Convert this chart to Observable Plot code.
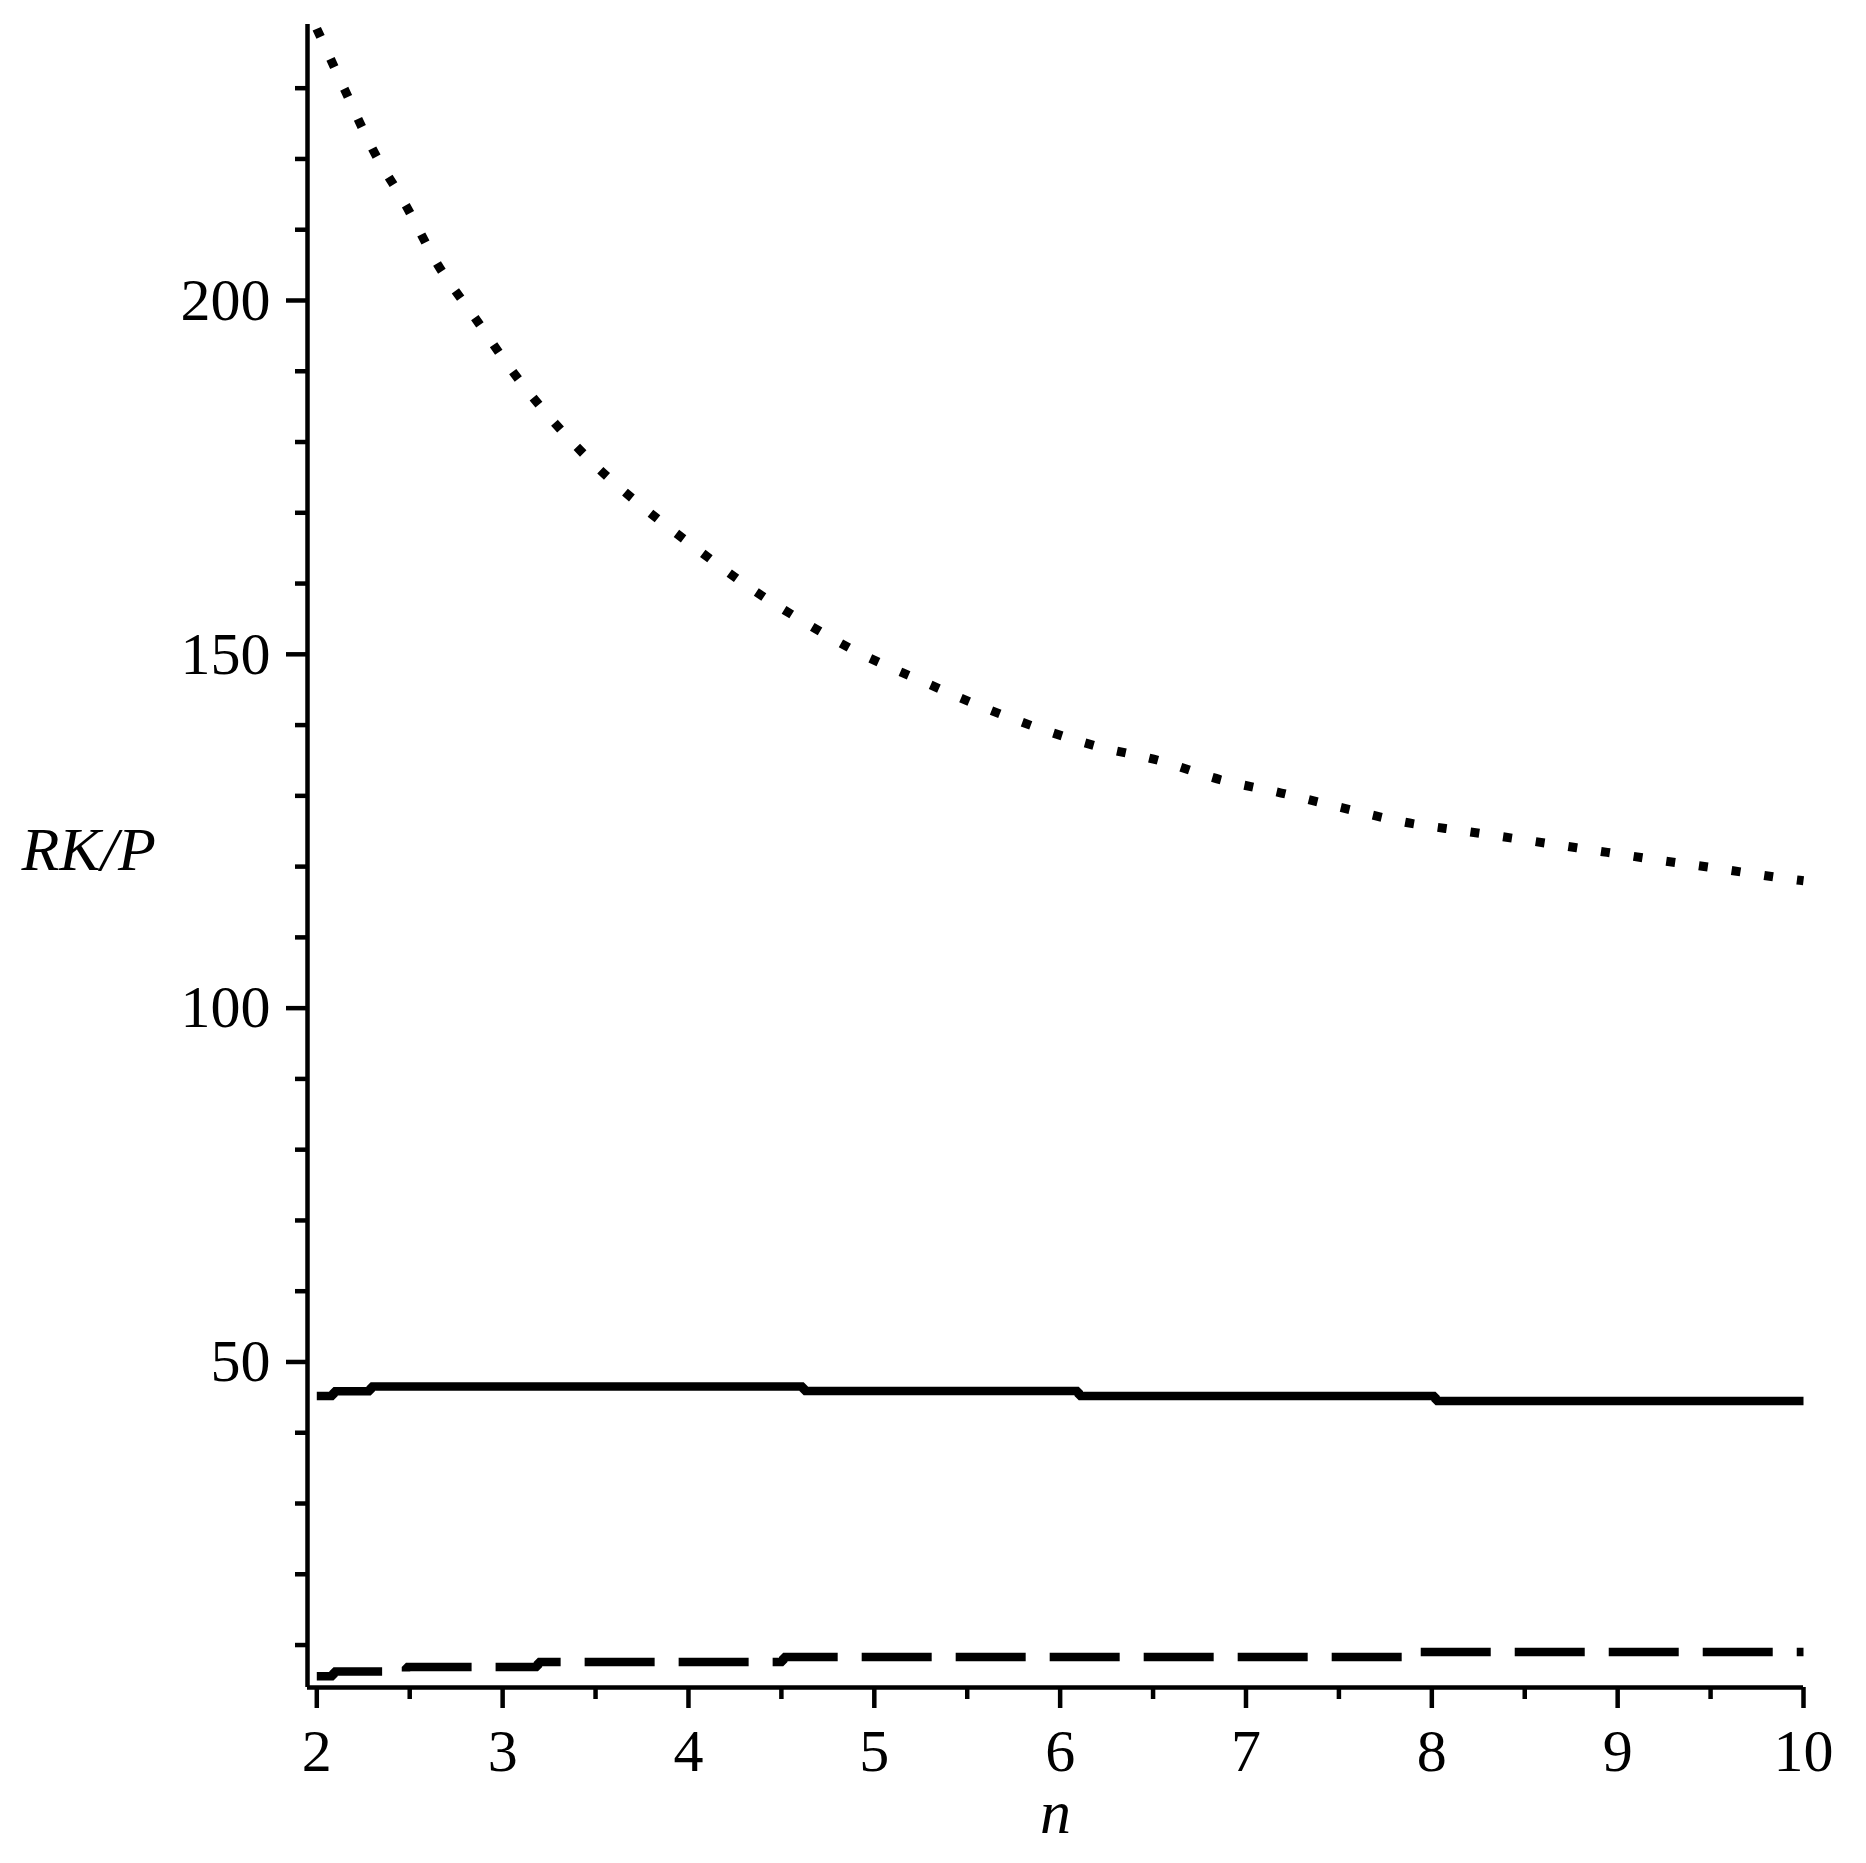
<!DOCTYPE html>
<html>
<head>
<meta charset="utf-8">
<script src="https://cdn.jsdelivr.net/npm/d3@7"></script>
<script src="https://cdn.jsdelivr.net/npm/@observablehq/plot@0.6"></script>
<style>
  html, body { margin: 0; padding: 0; background: #fff; }
  #chart svg { display: block; }
</style>
</head>
<body>
<div id="chart"></div>
<script>
// ---- data ----
// solid curve (drawn as pixel steps in the original)
const solidN = [2, 2.09, 2.29, 4.62, 6.1, 8.02, 10];
const solidV = [45.2, 45.85, 46.55, 45.9, 45.2, 44.5, 44.5];
// dashed curve
const dashN = [2, 2.09, 2.48, 3.19, 4.51, 7.89, 10];
const dashV = [5.6, 6.26, 6.9, 7.6, 8.3, 9.0, 9.0];
// dotted curve
const dotN = [2.0, 2.15, 2.3, 2.48, 2.65, 2.85, 3.05, 3.28, 3.51, 3.76, 4.04, 4.32, 4.62, 4.91, 5.24, 5.54, 5.87, 6.2, 6.53, 6.86, 7.19, 7.52, 7.85, 8.18, 8.54, 8.87, 9.2, 9.55, 9.88, 10];
const dotV = [238.4, 229.8, 221.4, 213.4, 205.1, 197.6, 190.1, 182.7, 176.4, 170.7, 165.0, 159.6, 154.6, 150.3, 146.4, 143.0, 139.7, 137.0, 135.0, 132.3, 130.4, 128.3, 126.3, 125.0, 123.6, 122.3, 121.0, 119.7, 118.4, 118.0];
// ticks
const xMajor = [2, 3, 4, 5, 6, 7, 8, 9, 10];
const xMinor = [2.5, 3.5, 4.5, 5.5, 6.5, 7.5, 8.5, 9.5];
const yMajor = [50, 100, 150, 200];
const yMinor = [10, 20, 30, 40, 60, 70, 80, 90, 110, 120, 130, 140, 160, 170, 180, 190, 210, 220, 230];
const xLabel = "n";
const yLabel = "RK/P";

const zip = (ns, vs) => ns.map((n, i) => ({n, v: vs[i]}));
const solid = zip(solidN, solidV);
const dashed = zip(dashN, dashV);
const dotted = zip(dotN, dotV);

const font = "'Liberation Serif', 'DejaVu Serif', serif";
const fs = 60;
const aw = 4.5;

const chart = Plot.plot({
  width: 1866,
  height: 1863,
  marginLeft: 307,
  marginRight: 63,
  marginTop: 24,
  marginBottom: 176,
  x: {domain: [1.95, 10]},
  y: {domain: [4, 239]},
  style: {fontFamily: font, background: "#fff", color: "#000"},
  marks: [
    // minor ticks
    Plot.axisX({ticks: xMinor, tickSize: 12, tickFormat: () => "", strokeWidth: aw, label: null}),
    Plot.axisY({ticks: yMinor, tickSize: 12, tickFormat: () => "", strokeWidth: aw, label: null}),
    // major ticks with labels
    Plot.axisX({ticks: xMajor, tickSize: 21, tickPadding: 20, fontSize: fs, strokeWidth: aw, label: null, tickFormat: d => String(d)}),
    Plot.axisY({ticks: yMajor, tickSize: 21, tickPadding: 16, fontSize: fs, strokeWidth: aw, label: null, tickFormat: d => String(d)}),
    // axis lines
    Plot.ruleX([1.95], {strokeWidth: aw, stroke: "#000"}),
    Plot.ruleY([4], {strokeWidth: aw, stroke: "#000"}),
    // curves
    Plot.line(dotted, {x: "n", y: "v", curve: "monotone-x", stroke: "#000", strokeWidth: 9,
      strokeDasharray: "9,24", strokeLinecap: "butt", strokeLinejoin: "miter"}),
    Plot.line(solid, {x: "n", y: "v", curve: "step-after", stroke: "#000", strokeWidth: 8.5,
      strokeLinecap: "butt", strokeLinejoin: "miter"}),
    Plot.line(dashed, {x: "n", y: "v", curve: "step-after", stroke: "#000", strokeWidth: 8.5,
      strokeDasharray: "70,24", strokeLinecap: "butt", strokeLinejoin: "miter"}),
    // axis titles
    Plot.text([yLabel], {frameAnchor: "left", dx: -286, dy: -6, textAnchor: "start", lineAnchor: "middle",
      fontSize: 62, fontStyle: "italic", fill: "#000", text: d => d}),
    Plot.text([xLabel], {frameAnchor: "bottom", dy: 145, lineAnchor: "bottom",
      fontSize: 62, fontStyle: "italic", fill: "#000", text: d => d})
  ]
});
document.getElementById("chart").appendChild(chart);
</script>
</body>
</html>
